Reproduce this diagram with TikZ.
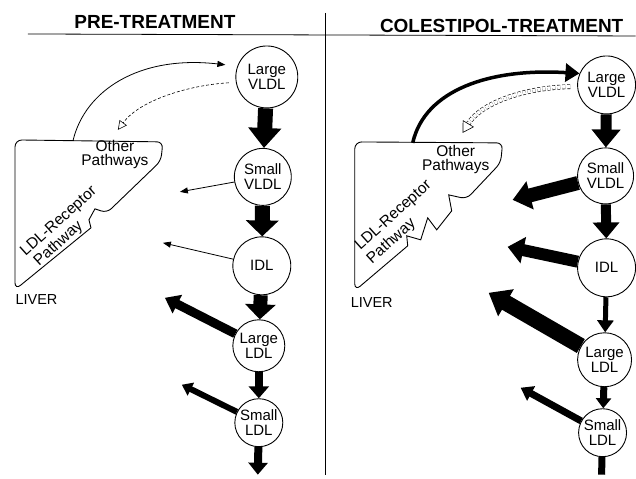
\documentclass[tikz,border=0pt]{standalone}
\usepackage{fontspec}
\setmainfont{Liberation Sans}
\usetikzlibrary{arrows.meta}
\usetikzlibrary{positioning}
\tikzset{x=1pt, y=-1pt, >=Triangle, font=\fontsize{15}{15}\selectfont}
\tikzstyle{lipo} = [draw, circle, line width=0.9pt, inner sep=0pt, align=center]
\tikzstyle{heading} = [font=\fontsize{19}{19}\selectfont\bfseries]
\tikzstyle{organ} = [line width=0.9pt, rounded corners=6pt]
\tikzstyle{organtext} = [align=center, font=\fontsize{15.5}{14}\selectfont]
\tikzstyle{flux} = [line width=0.8pt, -{Triangle[width=6pt,length=8pt]}]
\tikzstyle{leak} = [line width=0.6pt, dash pattern=on 3pt off 2pt, shorten <=7pt]
\tikzset{fat/.style n args={3}{line width=#1, -{Triangle[width=#2,length=#3]}}}

\begin{document}
\begin{tikzpicture}
	\fill[white] (0,0) rectangle (636,475);

	% headings
	\node [heading] (pre) at (155,22) {PRE-TREATMENT};
	\node [heading] (cole) at (502,26) {COLESTIPOL-TREATMENT};
	\draw [line width=0.8pt] (28,34) -- (636,36);
	\draw [line width=0.8pt] (326,13) -- (326,475);

	% pre-treatment
	\draw [organ] (15,140) -- (163,142) -- (161,161) -- (107,213) [sharp corners] -- (95,209) -- (89,220) -- (91,228) [rounded corners=7pt] -- (15,290) -- cycle;
	\node [organtext] (lother) at (115,155) {Other\\Pathways};
	\node [organtext, rotate=42, font=\fontsize{15.5}{16.5}\selectfont] (lrecep) at (64.5,228) {LDL-Receptor\\Pathway\hspace*{30pt}};
	\node [anchor=west, font=\fontsize{14.5}{14.5}\selectfont] (lliver) at (12,300) {LIVER};

	\node [lipo, minimum size=62pt] (lvldl) at (267,77) {Large\\VLDL};
	\node [lipo, minimum size=57pt] (lsvldl) at (263,177) {Small\\VLDL};
	\node [lipo, minimum size=58pt] (lidl) at (262,266) {IDL};
	\node [lipo, minimum size=52pt] (llldl) at (259,346) {Large\\LDL};
	\node [lipo, minimum size=48pt] (lsldl) at (259,423) {Small\\LDL};

	\coordinate (llivtop) at (73,141);
	\coordinate (lothtip) at (118,130);
	\coordinate (lbot) at (258,475);
	\coordinate (lsvtip) at (180,192);
	\coordinate (lidtip) at (163,243);
	\coordinate (lldtip) at (165,298);
	\coordinate (lsdtip) at (182,385);

	\draw [flux, shorten >=12pt] (llivtop) .. controls (85,90) and (140,55) .. (lvldl.160);
	\draw [leak, -{Triangle[open,width=9pt,length=9pt]}] (lvldl.190) .. controls (190,85) and (140,100) .. (lothtip);
	\draw [fat={15pt}{32pt}{20pt}] (lvldl) -- (lsvldl);
	\draw [fat={15pt}{32pt}{16pt}] (lsvldl) -- (lidl);
	\draw [fat={14pt}{30pt}{15pt}] (lidl) -- (llldl);
	\draw [fat={8pt}{20pt}{12pt}] (llldl) -- (lsldl);
	\draw [fat={8pt}{19pt}{12pt}] (lsldl) -- (lbot);
	\draw [flux] (lsvldl) -- (lsvtip);
	\draw [flux] (lidl) -- (lidtip);
	\draw [fat={9pt}{20pt}{14pt}] (llldl) -- (lldtip);
	\draw [fat={6pt}{14pt}{10pt}] (lsldl) -- (lsdtip);

	% colestipol-treatment
	\draw [organ] (355,142) -- (503,143) -- (501,163) -- (467,199) [sharp corners] -- (449,195) -- (452,211) -- (437,230) -- (428,218) -- (421,240) -- (407,236) -- (408,246) [rounded corners=7pt] -- (355,291) -- cycle;
	\node [organtext] (rother) at (456,160) {Other\\Pathways};
	\node [organtext, rotate=42, font=\fontsize{15.5}{18}\selectfont] (rrecep) at (400,222.5) {LDL-Receptor\\Pathway\hspace*{38pt}};
	\node [font=\fontsize{14.5}{14.5}\selectfont] (rliver) at (372,303) {LIVER};

	\node [lipo, minimum size=58pt] (rvldl) at (607,85) {Large\\VLDL};
	\node [lipo, minimum size=56pt] (rsvldl) at (606,176) {Small\\VLDL};
	\node [lipo, minimum size=58pt] (ridl) at (607,268) {IDL};
	\node [lipo, minimum size=54pt] (rlldl) at (605,360) {Large\\LDL};
	\node [lipo, minimum size=48pt] (rsldl) at (603,433) {Small\\LDL};

	\coordinate (rlivtop) at (413,143);
	\coordinate (rothtip) at (463,133);
	\coordinate (rbot) at (602,475);
	\coordinate (rsvtip) at (513,200);
	\coordinate (ridtip) at (508,247);
	\coordinate (rldtip) at (489,293);
	\coordinate (rsdtip) at (521,388);

	\draw [line width=3.5pt, -{Triangle[width=18pt,length=14pt]}] (rlivtop) .. controls (425,90) and (490,68) .. (rvldl.157);
	\draw [leak, double, double distance=3.5pt, -{Triangle[open,width=13pt,length=11pt]}] (rvldl.183) .. controls (520,88) and (480,105) .. (rothtip);
	\draw [fat={11pt}{28pt}{18pt}] (rvldl) -- (rsvldl);
	\draw [fat={10pt}{26pt}{16pt}] (rsvldl) -- (ridl);
	\draw [fat={5pt}{16pt}{12pt}] (ridl) -- (rlldl);
	\draw [fat={7pt}{15pt}{10pt}] (rlldl) -- (rsldl);
	\draw [line width=7pt] (rsldl) -- (rbot);
	\draw [fat={14pt}{28pt}{18pt}] (rsvldl) -- (rsvtip);
	\draw [fat={12pt}{26pt}{16pt}] (ridl) -- (ridtip);
	\draw [fat={16pt}{30pt}{20pt}] (rlldl) -- (rldtip);
	\draw [fat={7pt}{16pt}{12pt}] (rsldl) -- (rsdtip);
\end{tikzpicture}
\end{document}
